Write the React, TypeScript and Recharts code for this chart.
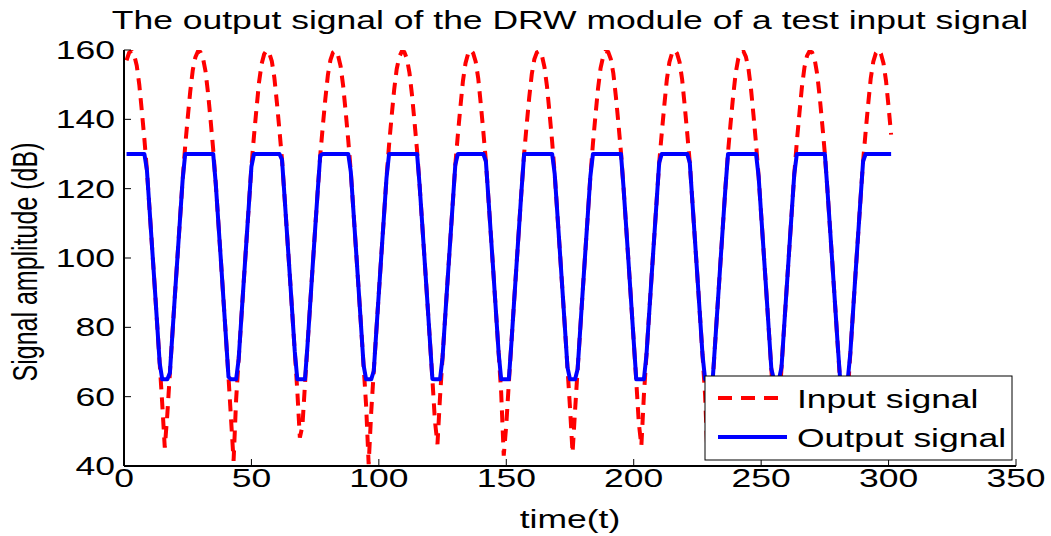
import { LineChart, Line, XAxis, YAxis } from 'recharts';

const xTicks = [0, 50, 100, 150, 200, 250, 300, 350];
const yTicks = [40, 60, 80, 100, 120, 140, 160];

// samples at t = 1, 2, ... 301
const inputSignal = [
  157.0, 159.2, 159.8, 158.5, 155.5, 150.0, 142.4, 134.3, 125.3, 114.3,
  103.3, 92.3, 81.0, 69.7, 58.0, 45.3, 54.9, 66.8, 78.2, 89.5,
  100.5, 111.5, 122.5, 132.2, 140.4, 148.1, 154.3, 157.9, 159.6, 159.4,
  157.6, 153.8, 147.4, 139.6, 131.3, 121.5, 110.5, 99.5, 88.3, 77.1,
  65.7, 53.6, 41.5, 59.2, 70.9, 82.2, 93.4, 104.4, 115.4, 126.4,
  135.2, 143.2, 150.8, 156.0, 158.8, 159.9, 159.1, 156.8, 152.0, 144.8,
  136.8, 128.4, 117.6, 106.6, 95.6, 84.4, 73.1, 61.7, 48.2, 51.5,
  63.4, 74.8, 86.1, 97.3, 108.3, 119.3, 129.6, 138.0, 145.9, 152.8,
  157.1, 159.3, 159.8, 158.4, 155.3, 149.6, 142.0, 133.9, 124.8, 113.8,
  102.8, 91.7, 80.5, 69.1, 57.4, 40.5, 55.5, 67.4, 78.8, 90.0,
  101.1, 112.1, 123.1, 132.6, 140.8, 148.5, 154.5, 158.0, 159.6, 159.4,
  157.5, 153.5, 147.0, 139.2, 130.9, 120.9, 109.9, 98.9, 87.8, 76.5,
  65.1, 53.0, 46.3, 59.9, 71.4, 82.7, 93.9, 104.9, 115.9, 126.9,
  135.6, 143.6, 151.1, 156.2, 158.9, 160.0, 159.1, 156.6, 151.8, 144.4,
  136.4, 127.9, 117.1, 106.1, 95.1, 83.9, 72.6, 61.1, 43.0, 51.8,
  64.0, 75.4, 86.7, 97.8, 108.8, 119.8, 130.1, 138.4, 146.3, 153.0,
  157.3, 159.3, 159.7, 158.3, 155.0, 149.3, 141.6, 133.5, 124.2, 113.2,
  102.2, 91.1, 79.9, 68.5, 56.8, 43.8, 56.1, 68.0, 79.3, 90.6,
  101.6, 112.6, 123.6, 133.0, 141.2, 148.9, 154.8, 158.1, 159.7, 159.4,
  157.4, 153.3, 146.6, 138.8, 130.5, 120.4, 109.4, 98.4, 87.2, 76.0,
  64.5, 52.4, 45.8, 60.5, 72.0, 83.3, 94.5, 105.5, 116.5, 127.5,
  136.0, 144.0, 151.5, 156.5, 159.0, 160.0, 159.0, 156.5, 151.5, 144.0,
  136.0, 127.5, 116.5, 105.5, 94.5, 83.3, 72.0, 60.5, 41.8, 52.4,
  64.5, 76.0, 87.2, 98.4, 109.4, 120.4, 130.5, 138.8, 146.6, 153.3,
  157.4, 159.4, 159.7, 158.1, 154.8, 148.9, 141.2, 133.0, 123.6, 112.6,
  101.6, 90.6, 79.3, 68.0, 56.1, 44.0, 56.8, 68.5, 79.9, 91.1,
  102.2, 113.2, 124.2, 133.5, 141.6, 149.3, 155.0, 158.3, 159.7, 159.3,
  157.3, 153.0, 146.3, 138.4, 130.1, 119.8, 108.8, 97.8, 86.7, 75.4,
  64.0, 51.8, 47.0, 61.1, 72.6, 83.9, 95.1, 106.1, 117.1, 127.9,
  136.4, 144.4, 151.8, 156.6, 159.1, 160.0, 158.9, 156.2, 151.1, 143.6,
  135.6,
];

const outputSignal = [
  130, 130, 130, 130, 130, 130, 130, 130, 125.3, 114.3,
  103.3, 92.3, 81.0, 69.7, 65, 65, 65, 66.8, 78.2, 89.5,
  100.5, 111.5, 122.5, 130, 130, 130, 130, 130, 130, 130,
  130, 130, 130, 130, 130, 121.5, 110.5, 99.5, 88.3, 77.1,
  65.7, 65, 65, 65, 70.9, 82.2, 93.4, 104.4, 115.4, 126.4,
  130, 130, 130, 130, 130, 130, 130, 130, 130, 130,
  130, 128.4, 117.6, 106.6, 95.6, 84.4, 73.1, 65, 65, 65,
  65, 74.8, 86.1, 97.3, 108.3, 119.3, 129.6, 130, 130, 130,
  130, 130, 130, 130, 130, 130, 130, 130, 124.8, 113.8,
  102.8, 91.7, 80.5, 69.1, 65, 65, 65, 67.4, 78.8, 90.0,
  101.1, 112.1, 123.1, 130, 130, 130, 130, 130, 130, 130,
  130, 130, 130, 130, 130, 120.9, 109.9, 98.9, 87.8, 76.5,
  65.1, 65, 65, 65, 71.4, 82.7, 93.9, 104.9, 115.9, 126.9,
  130, 130, 130, 130, 130, 130, 130, 130, 130, 130,
  130, 127.9, 117.1, 106.1, 95.1, 83.9, 72.6, 65, 65, 65,
  65, 75.4, 86.7, 97.8, 108.8, 119.8, 130, 130, 130, 130,
  130, 130, 130, 130, 130, 130, 130, 130, 124.2, 113.2,
  102.2, 91.1, 79.9, 68.5, 65, 65, 65, 68.0, 79.3, 90.6,
  101.6, 112.6, 123.6, 130, 130, 130, 130, 130, 130, 130,
  130, 130, 130, 130, 130, 120.4, 109.4, 98.4, 87.2, 76.0,
  65, 65, 65, 65, 72.0, 83.3, 94.5, 105.5, 116.5, 127.5,
  130, 130, 130, 130, 130, 130, 130, 130, 130, 130,
  130, 127.5, 116.5, 105.5, 94.5, 83.3, 72.0, 65, 65, 65,
  65, 76.0, 87.2, 98.4, 109.4, 120.4, 130, 130, 130, 130,
  130, 130, 130, 130, 130, 130, 130, 130, 123.6, 112.6,
  101.6, 90.6, 79.3, 68.0, 65, 65, 65, 68.5, 79.9, 91.1,
  102.2, 113.2, 124.2, 130, 130, 130, 130, 130, 130, 130,
  130, 130, 130, 130, 130, 119.8, 108.8, 97.8, 86.7, 75.4,
  65, 65, 65, 65, 72.6, 83.9, 95.1, 106.1, 117.1, 127.9,
  130, 130, 130, 130, 130, 130, 130, 130, 130, 130,
  130,
];

const rows = inputSignal.map((v, i) => ({ t: i + 1, input: v, output: outputSignal[i] }));

const FONT = '"Liberation Sans", Arial, Helvetica, sans-serif';
const SX = 1.42; // the original figure is stretched sideways
const FS = 25;

function BottomTick({ x, y, payload }: any) {
  return (
    <g>
      <line x1={x} x2={x} y1={y} y2={y - 7} stroke="#000" strokeWidth={1} />
      <text
        x={0}
        y={0}
        transform={`translate(${x} ${y + 21}) scale(${SX} 1)`}
        textAnchor="middle"
        fontSize={FS}
        fontFamily={FONT}
        fill="#000"
      >
        {payload.value}
      </text>
    </g>
  );
}

function TopTick({ x, y }: any) {
  return <line x1={x} x2={x} y1={y} y2={y + 7} stroke="#000" strokeWidth={1} />;
}

function LeftTick({ x, y, payload }: any) {
  return (
    <g>
      <line x1={x} x2={x + 7} y1={y} y2={y} stroke="#000" strokeWidth={1} />
      <text
        x={0}
        y={0}
        transform={`translate(${x - 9} ${y + 9}) scale(${SX} 1)`}
        textAnchor="end"
        fontSize={FS}
        fontFamily={FONT}
        fill="#000"
      >
        {payload.value}
      </text>
    </g>
  );
}

function RightTick({ x, y }: any) {
  return <line x1={x} x2={x - 7} y1={y} y2={y} stroke="#000" strokeWidth={1} />;
}

export default function App() {
  const axisLine = { stroke: '#000', strokeWidth: 2 };
  return (
    <div style={{ position: 'absolute', left: 0, top: 0, width: 1051, height: 536, background: '#fff' }}>
      <LineChart width={1051} height={536} data={rows} margin={{ top: 50, right: 35, bottom: 0, left: 0 }}>
        <XAxis
          xAxisId="b"
          dataKey="t"
          type="number"
          domain={[0, 350]}
          ticks={xTicks}
          interval={0}
          allowDataOverflow
          height={70}
          tickSize={0}
          tickMargin={0}
          tickLine={false}
          axisLine={axisLine}
          tick={<BottomTick />}
        />
        <XAxis
          xAxisId="top"
          orientation="top"
          dataKey="t"
          type="number"
          domain={[0, 350]}
          ticks={xTicks}
          interval={0}
          allowDataOverflow
          height={0}
          tickSize={0}
          tickMargin={0}
          tickLine={false}
          axisLine={axisLine}
          tick={<TopTick />}
        />
        <YAxis
          yAxisId="l"
          type="number"
          domain={[40, 160]}
          ticks={yTicks}
          interval={0}
          allowDataOverflow
          width={124}
          tickSize={0}
          tickMargin={0}
          tickLine={false}
          axisLine={axisLine}
          tick={<LeftTick />}
        />
        <YAxis
          yAxisId="r"
          orientation="right"
          type="number"
          domain={[40, 160]}
          ticks={yTicks}
          interval={0}
          allowDataOverflow
          width={0}
          tickSize={0}
          tickMargin={0}
          tickLine={false}
          axisLine={axisLine}
          tick={<RightTick />}
        />
        <Line
          xAxisId="b"
          yAxisId="l"
          type="linear"
          dataKey="input"
          stroke="#ff0000"
          strokeWidth={4}
          strokeDasharray="12 8"
          dot={false}
          isAnimationActive={false}
        />
        <Line
          xAxisId="b"
          yAxisId="l"
          type="linear"
          dataKey="output"
          stroke="#0000ff"
          strokeWidth={4}
          strokeLinejoin="round"
          dot={false}
          isAnimationActive={false}
        />
      </LineChart>
      <svg
        width={1051}
        height={536}
        style={{ position: 'absolute', left: 0, top: 0, pointerEvents: 'none' }}
        fontFamily={FONT}
      >
        <text x={0} y={0} transform={`translate(570 29) scale(${SX} 1)`} textAnchor="middle" fontSize={FS}>
          The output signal of the DRW module of a test input signal
        </text>
        <text x={0} y={0} transform={`translate(570 528) scale(${SX} 1)`} textAnchor="middle" fontSize={FS}>
          time(t)
        </text>
        <text x={0} y={0} transform={`translate(37 262) rotate(-90) scale(1 ${SX})`} textAnchor="middle" fontSize={FS}>
          Signal amplitude (dB)
        </text>
        <rect x={705} y={376} width={307} height={84} fill="#fff" stroke="#000" strokeWidth={1} />
        <line x1={718} x2={787} y1={398} y2={398} stroke="#ff0000" strokeWidth={4} strokeDasharray="14 9" />
        <line x1={718} x2={787} y1={437} y2={437} stroke="#0000ff" strokeWidth={4} />
        <text x={0} y={0} transform={`translate(797 408) scale(${SX} 1)`} fontSize={FS}>
          Input signal
        </text>
        <text x={0} y={0} transform={`translate(797 447) scale(${SX} 1)`} fontSize={FS}>
          Output signal
        </text>
      </svg>
    </div>
  );
}
